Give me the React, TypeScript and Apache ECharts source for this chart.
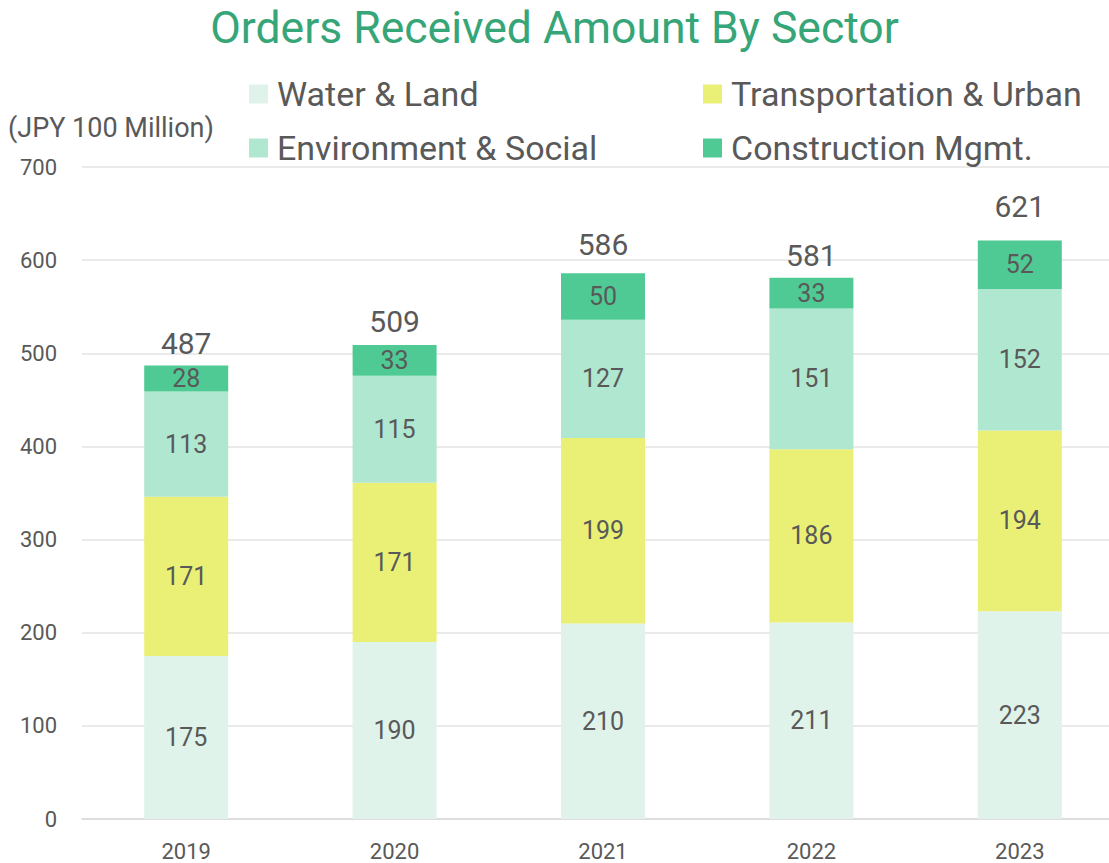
import React, { useEffect, useRef } from "react";
import * as echarts from "echarts";

const years = ["2019", "2020", "2021", "2022", "2023"];
const waterLand = [175, 190, 210, 211, 223];
const transportUrban = [171, 171, 199, 186, 194];
const envSocial = [113, 115, 127, 151, 152];
const constructionMgmt = [28, 33, 50, 33, 52];
const totals = [487, 509, 586, 581, 621];

const seriesNames = [
  "Water & Land",
  "Transportation & Urban",
  "Environment & Social",
  "Construction Mgmt.",
];
const seriesColors = ["#dff3ea", "#eaf075", "#b0e7d0", "#4fca94"];
const seriesData = [waterLand, transportUrban, envSocial, constructionMgmt];
// gap (px) between each bar top and its total label, as laid out in the original
const totalLabelGap = [7, 8, 14, 7, 19];

const FONT = "Roboto, 'Noto Sans', sans-serif";
const GRAY = "#595959";

export default function App() {
  const ref = useRef<HTMLDivElement>(null);

  useEffect(() => {
    if (!ref.current) return;
    const chart = echarts.init(ref.current, null, { renderer: "svg" });

    const legendPos = [
      { left: 249, top: 77 },
      { left: 703, top: 77 },
      { left: 249, top: 131 },
      { left: 703, top: 131 },
    ];

    const barSeries: any[] = seriesNames.map((name, i) => ({
      name,
      type: "bar",
      stack: "total",
      barWidth: 84,
      data: seriesData[i],
      itemStyle: { color: seriesColors[i] },
      label: {
        show: true,
        position: "inside",
        color: GRAY,
        fontSize: 25,
        fontFamily: FONT,
      },
    }));

    barSeries.push({
      name: "Total",
      type: "bar",
      stack: "total",
      barWidth: 84,
      data: totals.map((_, i) => ({
        value: 0,
        label: { distance: totalLabelGap[i] },
      })),
      itemStyle: { color: "transparent" },
      label: {
        show: true,
        position: "top",
        color: GRAY,
        fontSize: 30,
        fontFamily: FONT,
        formatter: (p: any) => String(totals[p.dataIndex]),
      },
    });

    chart.setOption({
      animation: false,
      backgroundColor: "#ffffff",
      title: {
        text: "Orders Received Amount By Sector",
        left: "center",
        top: 0,
        textStyle: {
          color: "#36a577",
          fontSize: 44.5,
          fontWeight: "normal",
          fontFamily: FONT,
        },
      },
      legend: seriesNames.map((name, i) => ({
        data: [name],
        left: legendPos[i].left,
        top: legendPos[i].top,
        padding: 0,
        icon: "rect",
        itemWidth: 19,
        itemHeight: 19,
        textStyle: {
          color: GRAY,
          fontSize: 34,
          fontFamily: FONT,
          padding: [0, 0, 0, 4],
        },
        selectedMode: false,
      })),
      graphic: [
        {
          type: "text",
          left: 8,
          top: 114,
          style: {
            text: "(JPY 100 Million)",
            fill: GRAY,
            fontSize: 27,
            fontFamily: FONT,
          },
        },
      ],
      grid: {
        left: 82,
        top: 167,
        width: 1042,
        height: 652,
        containLabel: false,
        outerBoundsMode: "none",
      },
      xAxis: {
        type: "category",
        data: years,
        axisLine: { show: true, lineStyle: { color: "#d9d9d9", width: 1.5 } },
        axisTick: { show: false },
        axisLabel: {
          color: GRAY,
          fontSize: 22,
          fontFamily: FONT,
          margin: 21,
        },
      },
      yAxis: {
        type: "value",
        min: 0,
        max: 700,
        interval: 100,
        axisLine: { show: false },
        axisTick: { show: false },
        splitLine: { lineStyle: { color: "#e3e3e3", width: 1.5 } },
        axisLabel: {
          color: GRAY,
          fontSize: 22,
          fontFamily: FONT,
          margin: 25,
        },
      },
      series: barSeries,
    });

    return () => chart.dispose();
  }, []);

  return (
    <div
      ref={ref}
      style={{ position: "absolute", left: 0, top: 0, width: 1109, height: 863 }}
    />
  );
}
